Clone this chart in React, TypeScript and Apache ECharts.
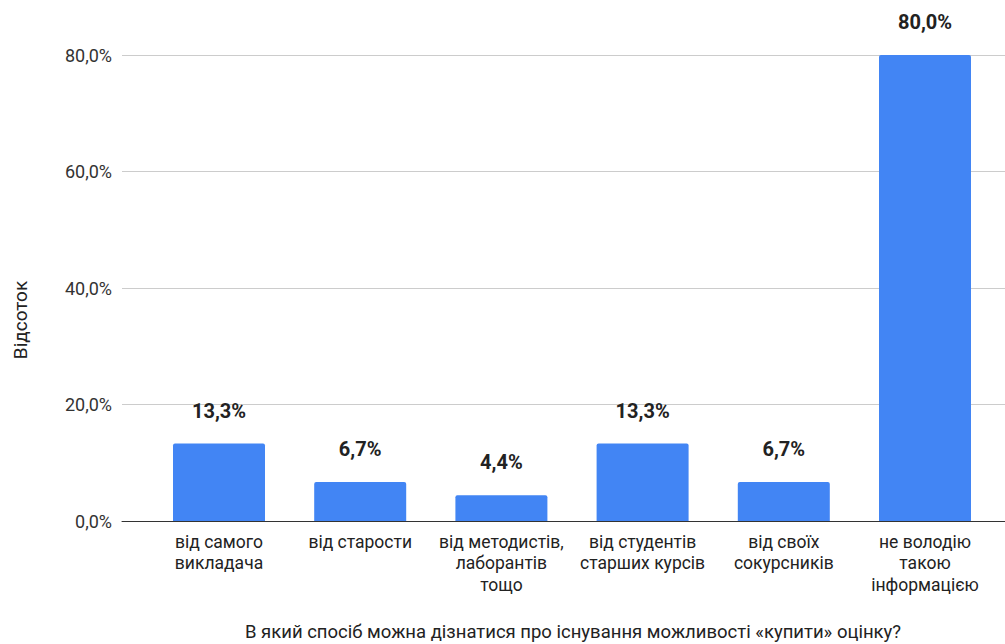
import React, { useEffect, useRef } from "react";
import * as echarts from "echarts";

const categories = [
  "від самого\nвикладача",
  "від старости",
  "від методистів,\nлаборантів\nтощо",
  "від студентів\nстарших курсів",
  "від своїх\nсокурсників",
  "не володію\nтакою\nінформацією",
];
const values = [13.3, 6.7, 4.4, 13.3, 6.7, 80.0];
const yTicks = [0, 20, 40, 60, 80];
const yAxisTitle = "Відсоток";
const xAxisTitle = "В який спосіб можна дізнатися про існування можливості «купити» оцінку?";

const fmt = (v: number) => v.toFixed(1).replace(".", ",") + "%";

export default function App() {
  const ref = useRef<HTMLDivElement>(null);
  useEffect(() => {
    if (!ref.current) return;
    const chart = echarts.init(ref.current, null, { renderer: "svg" });
    const yMin = yTicks[0];
    const yMax = yTicks[yTicks.length - 1];
    const yInterval = yTicks[1] - yTicks[0];
    chart.setOption({
      animation: false,
      textStyle: { fontFamily: "Roboto" },
      grid: [
        { left: 122, right: 0, top: 55, bottom: 123 },
        { left: 148.4, right: 9.4, top: 55, bottom: 123 },
      ],
      xAxis: [
        {
          gridIndex: 0,
          type: "value",
          min: 0,
          max: 1,
          axisLine: { show: true, onZero: false, lineStyle: { color: "#333333", width: 1 } },
          axisTick: { show: false },
          axisLabel: { show: false },
          splitLine: { show: false },
        },
        {
          gridIndex: 1,
          type: "category",
          data: categories,
          axisLine: { show: false },
          axisTick: { show: false },
          axisLabel: {
            interval: 0,
            color: "#222222",
            fontSize: 17.5,
            lineHeight: 21.5,
            margin: 10,
            fontFamily: "Roboto",
            align: "center",
          },
        },
      ],
      yAxis: [
        {
          gridIndex: 0,
          type: "value",
          min: yMin,
          max: yMax,
          interval: yInterval,
          axisLine: { show: false },
          axisTick: { show: false },
          axisLabel: {
            color: "#333333",
            fontSize: 18,
            margin: 10,
            fontFamily: "Roboto",
            formatter: (v: number) => fmt(v),
          },
          splitLine: { show: true, lineStyle: { color: "#cccccc", width: 1 } },
        },
        {
          gridIndex: 1,
          type: "value",
          min: yMin,
          max: yMax,
          interval: yInterval,
          axisLine: { show: false },
          axisTick: { show: false },
          axisLabel: { show: false },
          splitLine: { show: false },
        },
      ],
      series: [
        {
          type: "bar",
          xAxisIndex: 1,
          yAxisIndex: 1,
          data: values,
          barWidth: 92,
          itemStyle: { color: "#4285F4", borderRadius: [2, 2, 0, 0] },
          label: {
            show: true,
            position: "top",
            distance: 23,
            color: "#222222",
            fontSize: 20,
            fontWeight: "bold",
            fontFamily: "Roboto",
            formatter: (p: any) => fmt(p.value),
          },
        },
      ],
      graphic: [
        {
          type: "text",
          x: 20,
          y: 320,
          rotation: Math.PI / 2,
          style: {
            text: yAxisTitle,
            fill: "#222222",
            fontSize: 19,
            fontFamily: "Roboto",
            align: "center",
            verticalAlign: "middle",
          },
        },
        {
          type: "text",
          x: 573,
          y: 632,
          style: {
            text: xAxisTitle,
            fill: "#222222",
            fontSize: 18.5,
            fontFamily: "Roboto",
            align: "center",
            verticalAlign: "middle",
          },
        },
      ],
    });
    return () => chart.dispose();
  }, []);
  return (
    <div
      ref={ref}
      style={{ position: "fixed", left: 0, top: 0, width: 1005, height: 644, background: "#ffffff" }}
    />
  );
}
